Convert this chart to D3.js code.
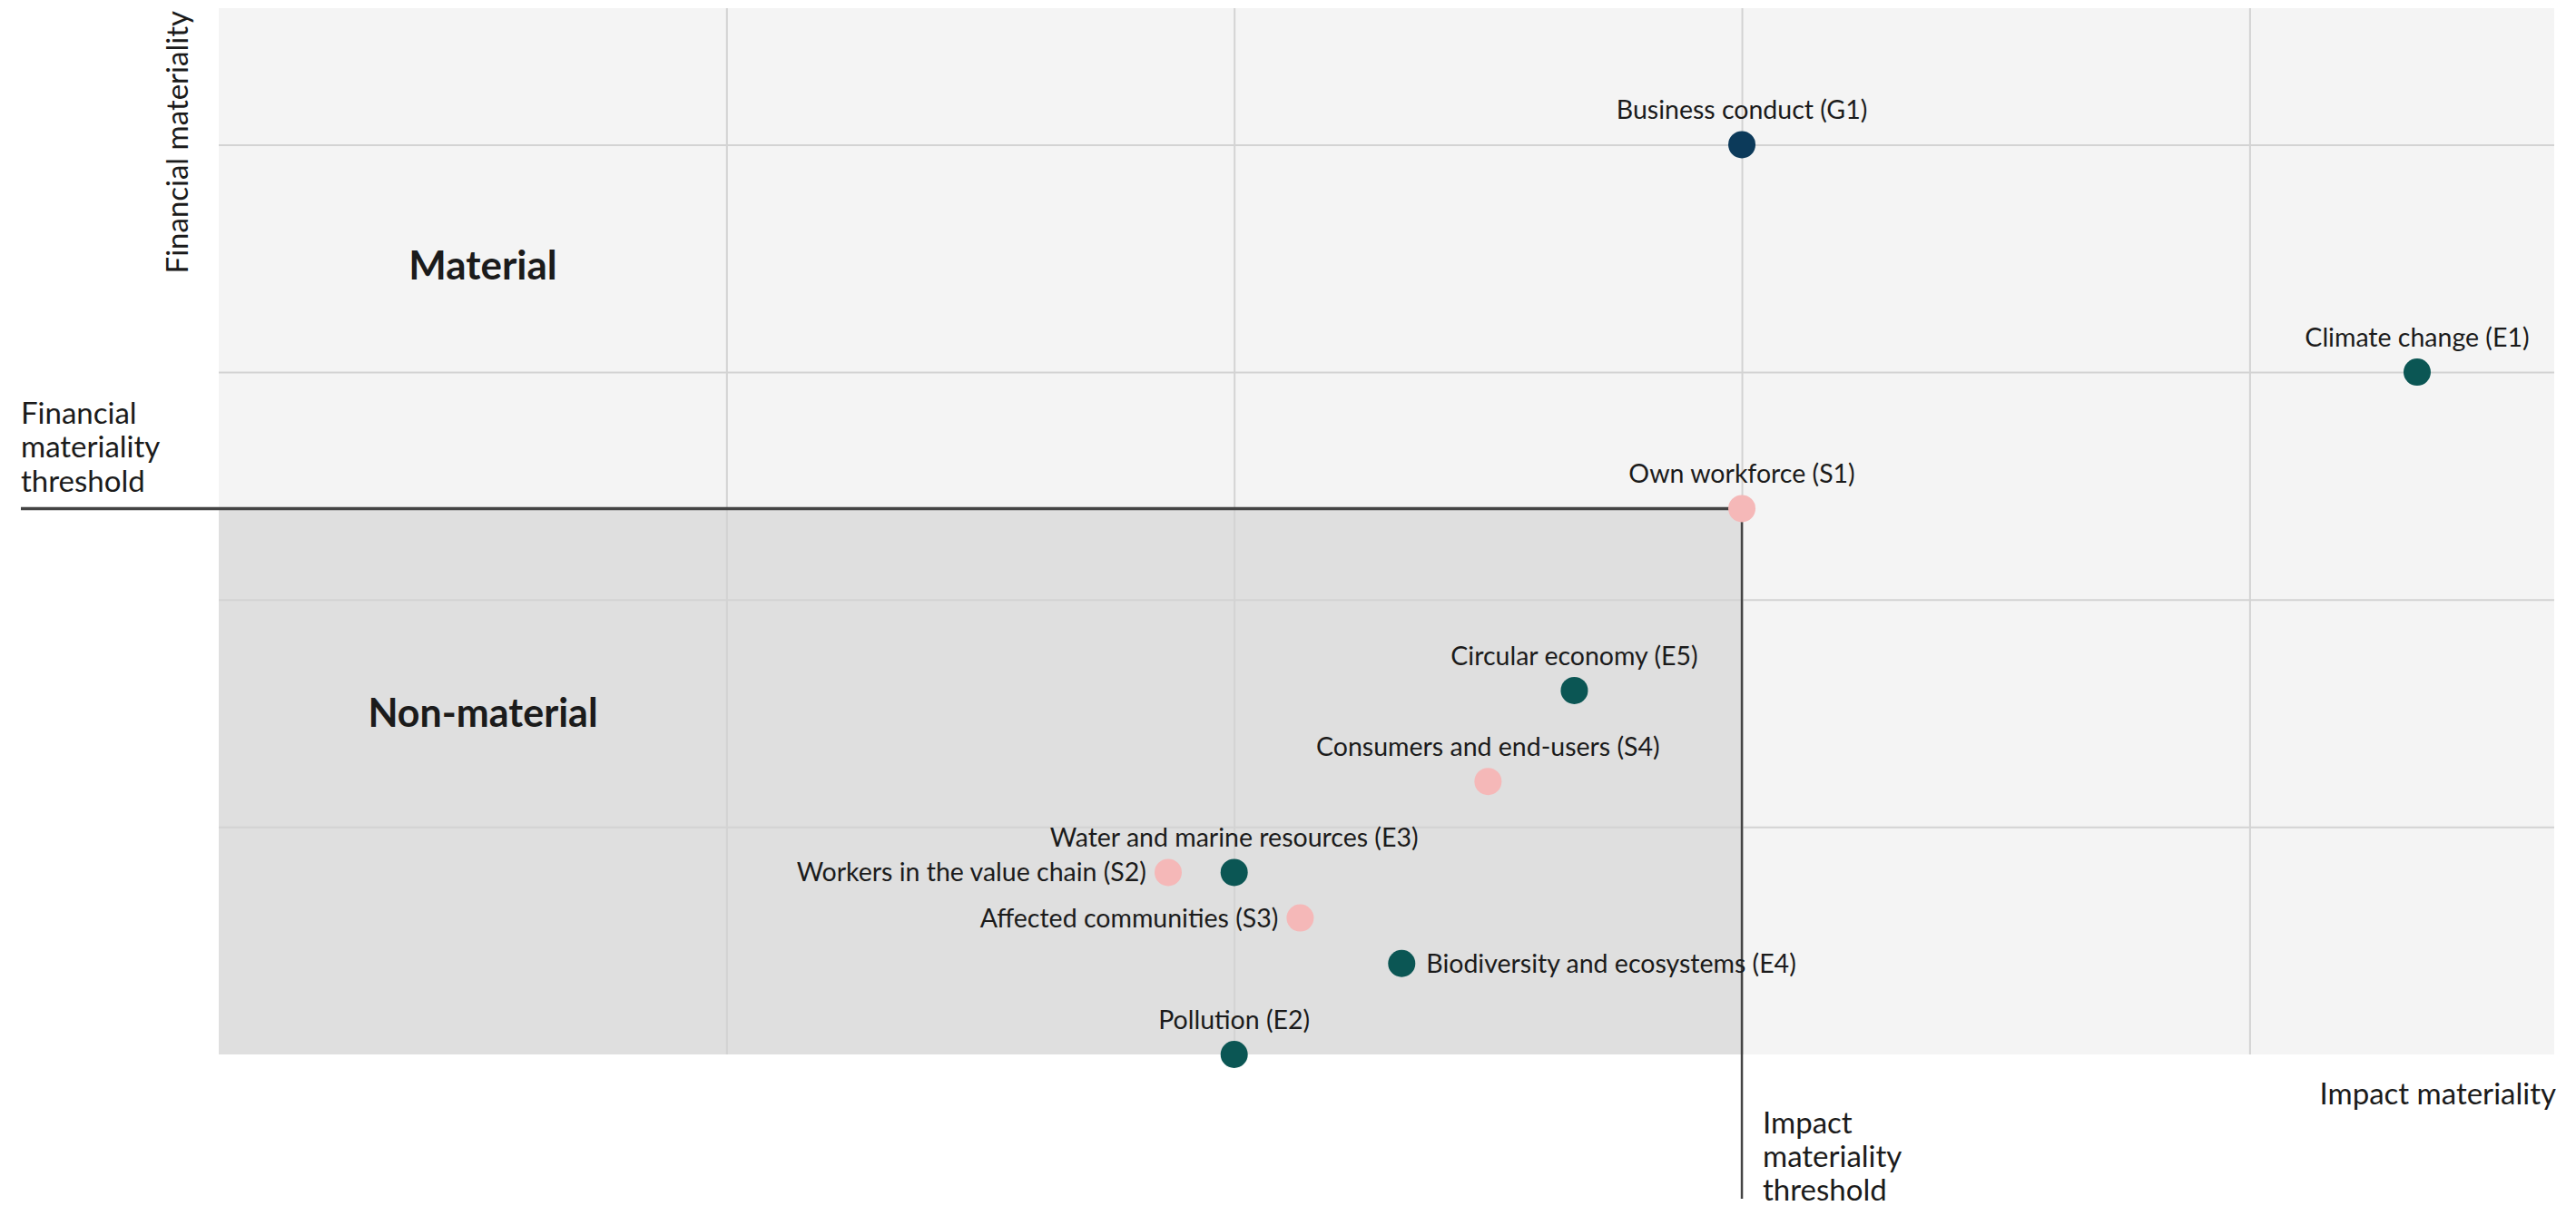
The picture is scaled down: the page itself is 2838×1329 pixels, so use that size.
<!DOCTYPE html>
<html lang="en">
<head>
<meta charset="UTF-8">
<title>Double materiality matrix</title>
<script src="https://d3js.org/d3.v7.min.js"></script>
<style>
  body { margin: 0; background: #fff; }
  svg text { font-family: Lato, "Open Sans", sans-serif; fill: #1b1b1b; }
</style>
</head>
<body>
<div id="chart"></div>
<script>
// topics of the materiality assessment
const topics = [
  "Business conduct (G1)",
  "Climate change (E1)",
  "Own workforce (S1)",
  "Circular economy (E5)",
  "Consumers and end-users (S4)",
  "Water and marine resources (E3)",
  "Workers in the value chain (S2)",
  "Affected communities (S3)",
  "Biodiversity and ecosystems (E4)",
  "Pollution (E2)"
];
const pillar = ["G", "E", "S", "E", "S", "E", "S", "S", "E", "E"];
const impactScore = [3.0, 4.33, 3.0, 2.67, 2.5, 2.0, 1.87, 2.13, 2.33, 2.0];
const financialScore = [4.0, 3.0, 2.4, 1.6, 1.2, 0.8, 0.8, 0.6, 0.4, 0.0];
// where each label sits relative to its dot
const labelSide = ["top", "top", "top", "top", "top", "top", "left", "left", "right", "top"];

const gridValues = [1, 2, 3, 4];
const impactThreshold = 3.0;
const financialThreshold = 2.4;

const pillarColor = { E: "#0b5654", S: "#f5b8b8", G: "#0c3a5a" };

const W = 2838, H = 1329;
const plotL = 241, plotR = 2814, plotT = 9, plotB = 1162;

const svg = d3.select("#chart").append("svg")
  .attr("width", W).attr("height", H);

const x = d3.scaleLinear().domain([0, 4.6]).range([plotL, plotR]);
const y = d3.scaleLinear().domain([0, 4.6]).range([plotB, plotT]);

// plot background
svg.append("rect")
  .attr("x", plotL).attr("y", plotT)
  .attr("width", plotR - plotL).attr("height", plotB - plotT)
  .attr("fill", "#f4f4f4");

// non-material zone
svg.append("rect")
  .attr("x", x(0)).attr("y", y(financialThreshold))
  .attr("width", x(impactThreshold) - x(0))
  .attr("height", y(0) - y(financialThreshold))
  .attr("fill", "#dfdfdf");

// grid lines from the axes
const gx = svg.append("g")
  .attr("transform", `translate(0,${plotB})`)
  .call(d3.axisBottom(x).tickValues(gridValues).tickSize(-(plotB - plotT)).tickFormat(""));
const gy = svg.append("g")
  .attr("transform", `translate(${plotL},0)`)
  .call(d3.axisLeft(y).tickValues(gridValues).tickSize(-(plotR - plotL)).tickFormat(""));
[gx, gy].forEach(g => {
  g.select(".domain").remove();
  g.selectAll(".tick line").attr("stroke", "#d3d3d3").attr("stroke-width", 2);
});

// threshold lines
svg.append("line")
  .attr("x1", 23).attr("x2", x(impactThreshold))
  .attr("y1", y(financialThreshold)).attr("y2", y(financialThreshold))
  .attr("stroke", "#444").attr("stroke-width", 3.5);
svg.append("line")
  .attr("x1", x(impactThreshold)).attr("x2", x(impactThreshold))
  .attr("y1", y(financialThreshold)).attr("y2", 1321)
  .attr("stroke", "#444").attr("stroke-width", 2.5);

// zone labels
svg.append("text").attr("x", 532).attr("y", 293).attr("dy", "0.35em")
  .attr("text-anchor", "middle").attr("font-size", 44).attr("font-weight", 700)
  .text("Material");
svg.append("text").attr("x", 532).attr("y", 786).attr("dy", "0.35em")
  .attr("text-anchor", "middle").attr("font-size", 43).attr("font-weight", 700)
  .text("Non-material");

// axis titles
svg.append("text")
  .attr("transform", "translate(195,12) rotate(-90)")
  .attr("dy", "0.35em").attr("text-anchor", "end").attr("font-size", 33)
  .text("Financial materiality");
svg.append("text").attr("x", 2816).attr("y", 1205).attr("dy", "0.35em")
  .attr("text-anchor", "end").attr("font-size", 33)
  .text("Impact materiality");

const multi = (lines, x0, y0, step) => {
  const t = svg.append("text").attr("font-size", 33);
  lines.forEach((l, i) => t.append("tspan").attr("x", x0).attr("y", y0 + i * step).attr("dy", "0.35em").text(l));
};
multi(["Financial", "materiality", "threshold"], 23, 455, 37.5);
multi(["Impact", "materiality", "threshold"], 1942, 1237, 37);

// dots
const pts = topics.map((name, i) => ({
  name, g: pillar[i], ix: impactScore[i], fy: financialScore[i], side: labelSide[i]
}));

svg.append("g").selectAll("circle").data(pts).join("circle")
  .attr("cx", d => x(d.ix)).attr("cy", d => y(d.fy))
  .attr("r", 15)
  .attr("fill", d => pillarColor[d.g]);

svg.append("g").selectAll("text").data(pts).join("text")
  .attr("font-size", 28.5)
  .attr("x", d => d.side === "left" ? x(d.ix) - 24 : d.side === "right" ? x(d.ix) + 27 : x(d.ix))
  .attr("y", d => d.side === "top" ? y(d.fy) - 38 : y(d.fy))
  .attr("dy", "0.35em")
  .attr("text-anchor", d => d.side === "left" ? "end" : d.side === "right" ? "start" : "middle")
  .text(d => d.name);
</script>
</body>
</html>
